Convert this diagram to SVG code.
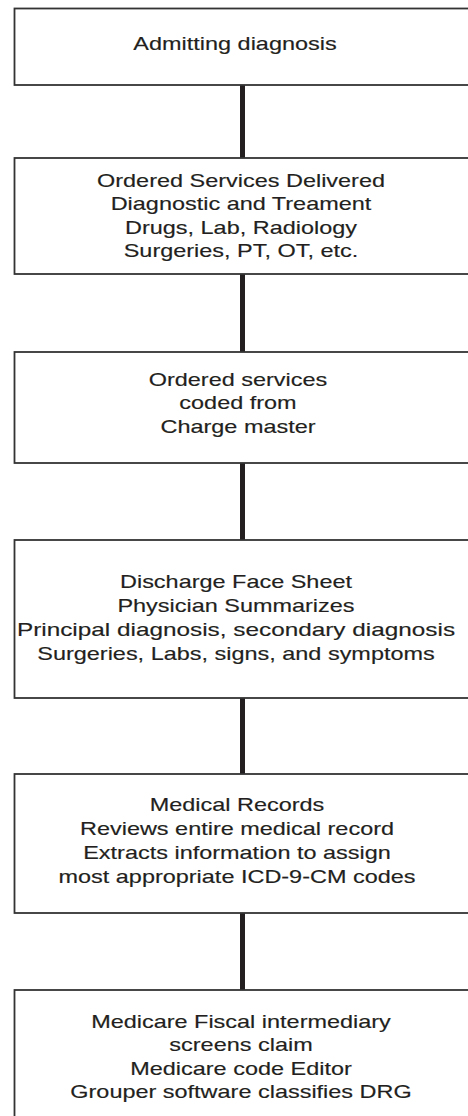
<svg xmlns="http://www.w3.org/2000/svg" width="468" height="1116" viewBox="0 0 468 1116">
<style>
.box{fill:#fff;stroke:#333;stroke-width:1.8}
.t{font-family:"Liberation Sans",Arial,sans-serif;font-size:17.5px;fill:#231f20;text-anchor:middle;stroke:#231f20;stroke-width:0.15}
.c{stroke:#231f20;stroke-width:5;fill:none}
</style>
<rect width="468" height="1116" fill="#fff"/>
<g id="connectors">
<line class="c" x1="242.5" y1="85" x2="242.5" y2="158"/>
<line class="c" x1="242.5" y1="274" x2="242.5" y2="352"/>
<line class="c" x1="242.5" y1="463" x2="242.5" y2="540"/>
<line class="c" x1="242.5" y1="698" x2="242.5" y2="774"/>
<line class="c" x1="242.5" y1="913" x2="242.5" y2="990"/>
</g>
<g id="n1">
<rect class="box" x="14.5" y="8.5" width="470" height="76.5"/>
<text class="t" transform="translate(235,50) scale(1.34,1)" x="0" y="0">Admitting diagnosis</text>
</g>
<g id="n2">
<rect class="box" x="14.5" y="158" width="470" height="116"/>
<g transform="translate(241,0) scale(1.34,1)">
<text class="t" x="0" y="187">Ordered Services Delivered</text>
<text class="t" x="0" y="210">Diagnostic and Treament</text>
<text class="t" x="0" y="234">Drugs, Lab, Radiology</text>
<text class="t" x="0" y="257">Surgeries, PT, OT, etc.</text>
</g>
</g>
<g id="n3">
<rect class="box" x="14.5" y="352" width="470" height="111"/>
<g transform="translate(238,0) scale(1.34,1)">
<text class="t" x="0" y="386">Ordered services</text>
<text class="t" x="0" y="409">coded from</text>
<text class="t" x="0" y="433">Charge master</text>
</g>
</g>
<g id="n4">
<rect class="box" x="14.5" y="540" width="470" height="158"/>
<g transform="translate(236,0) scale(1.34,1)">
<text class="t" x="0" y="588">Discharge Face Sheet</text>
<text class="t" x="0" y="612">Physician Summarizes</text>
<text class="t" x="0" y="636" textLength="327" lengthAdjust="spacingAndGlyphs">Principal diagnosis, secondary diagnosis</text>
<text class="t" x="0" y="660">Surgeries, Labs, signs, and symptoms</text>
</g>
</g>
<g id="n5">
<rect class="box" x="14.5" y="774" width="470" height="139"/>
<g transform="translate(237,0) scale(1.34,1)">
<text class="t" x="0" y="811">Medical Records</text>
<text class="t" x="0" y="835">Reviews entire medical record</text>
<text class="t" x="0" y="859">Extracts information to assign</text>
<text class="t" x="0" y="883">most appropriate ICD-9-CM codes</text>
</g>
</g>
<g id="n6">
<rect class="box" x="14.5" y="990" width="470" height="140"/>
<g transform="translate(241,0) scale(1.34,1)">
<text class="t" x="0" y="1028">Medicare Fiscal intermediary</text>
<text class="t" x="0" y="1051">screens claim</text>
<text class="t" x="0" y="1075">Medicare code Editor</text>
<text class="t" x="0" y="1098">Grouper software classifies DRG</text>
</g>
</g>
</svg>
